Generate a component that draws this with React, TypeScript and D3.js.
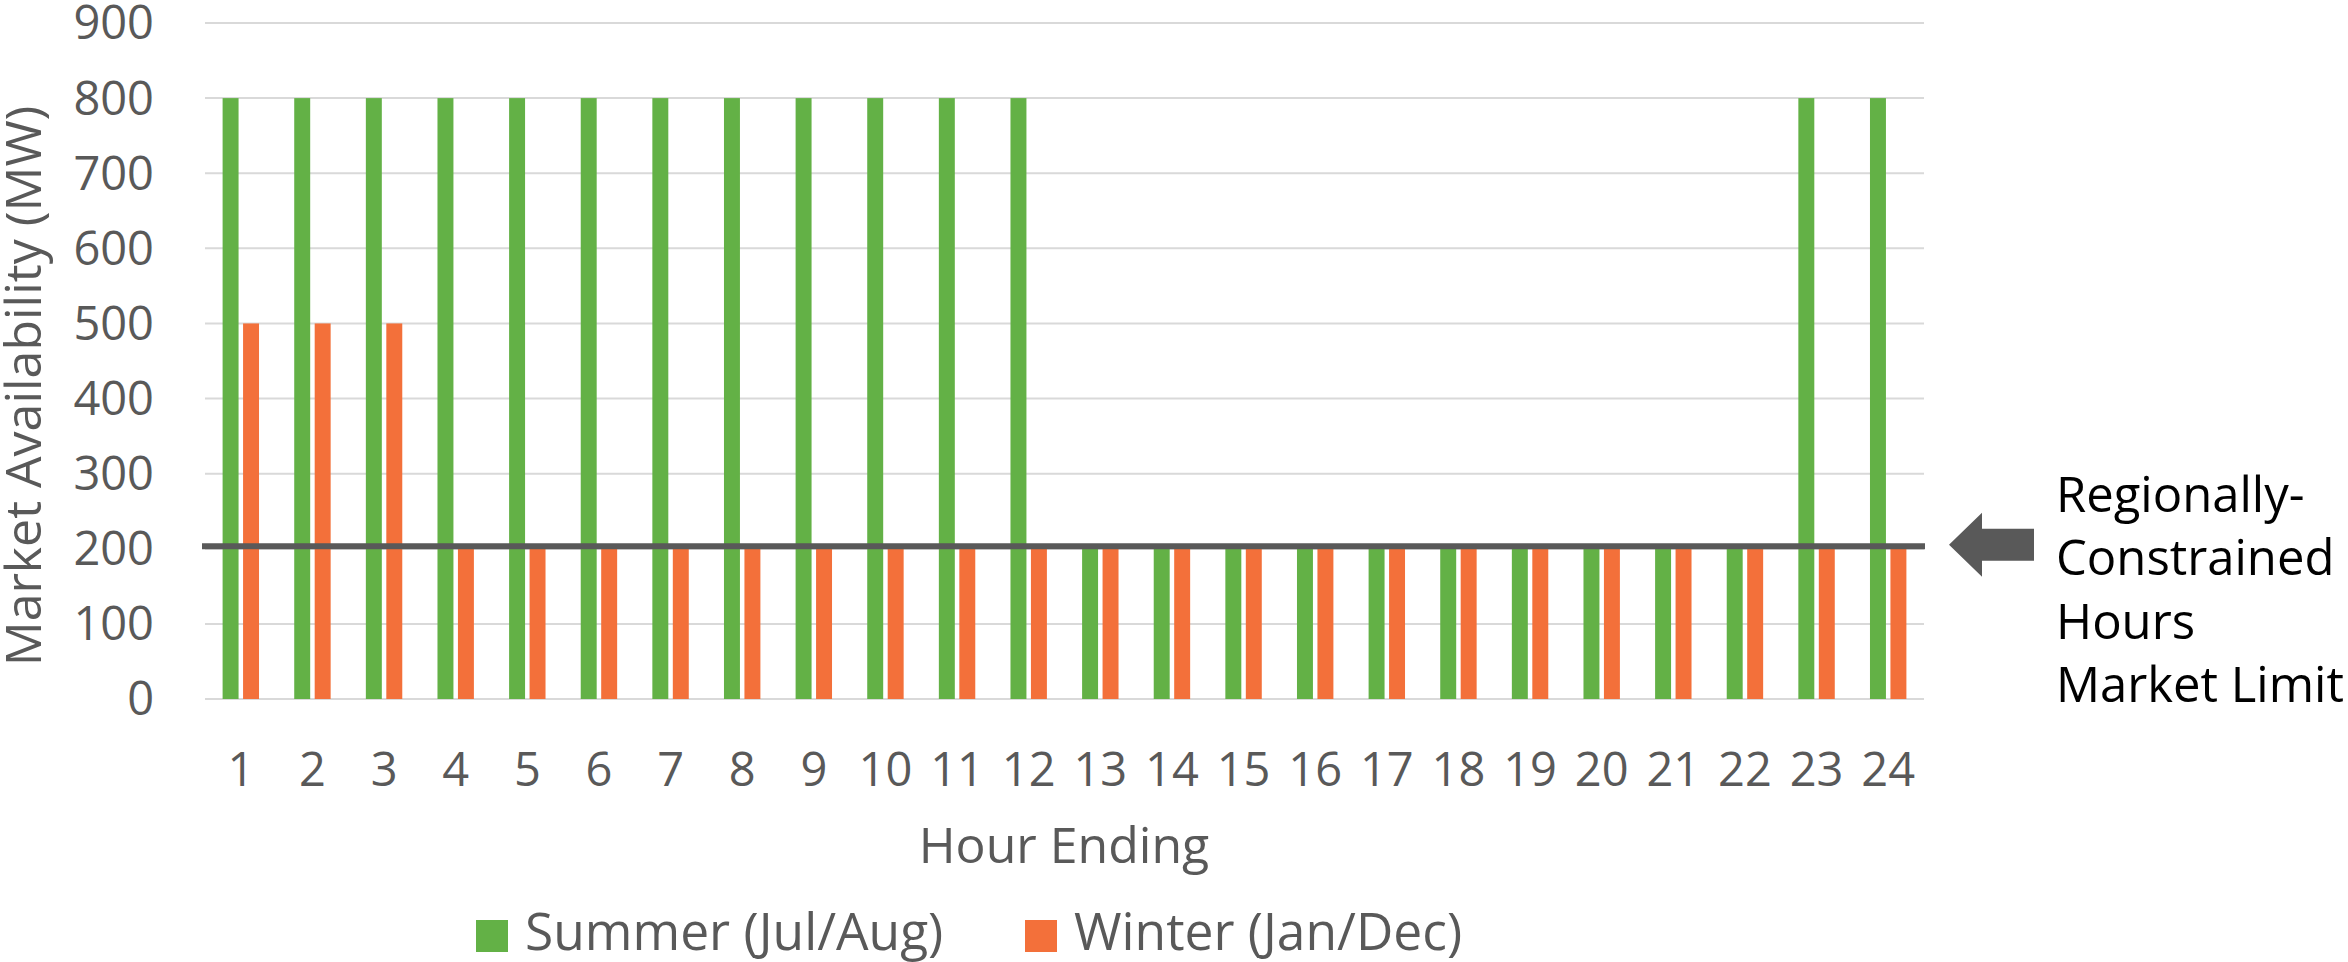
import React, { useEffect, useRef } from 'react';
import * as d3 from 'd3';

// --- Data ---
const hours = ['1', '2', '3', '4', '5', '6', '7', '8', '9', '10', '11', '12',
  '13', '14', '15', '16', '17', '18', '19', '20', '21', '22', '23', '24'];
const summerValues = [800, 800, 800, 800, 800, 800, 800, 800, 800, 800, 800, 800,
  200, 200, 200, 200, 200, 200, 200, 200, 200, 200, 800, 800];
const winterValues = [500, 500, 500, 200, 200, 200, 200, 200, 200, 200, 200, 200,
  200, 200, 200, 200, 200, 200, 200, 200, 200, 200, 200, 200];
const yTicks = [0, 100, 200, 300, 400, 500, 600, 700, 800, 900];
const marketLimit = 200;
const seriesNames = ['Summer (Jul/Aug)', 'Winter (Jan/Dec)'];
const seriesColors = ['#63B146', '#F3703A'];
const annotationLines = ['Regionally-', 'Constrained', 'Hours', 'Market Limit'];

const WIDTH = 2348;
const HEIGHT = 962;
const FONT = '"Open Sans", "Noto Sans", sans-serif';
const GREY = '#595959';

const App: React.FC = () => {
  const svgRef = useRef<SVGSVGElement>(null);

  useEffect(() => {
    if (!svgRef.current) return;
    const svg = d3.select(svgRef.current);
    svg.selectAll('*').remove();

    const plot = { left: 205, right: 1924, top: 23, bottom: 699 };

    const x0 = d3.scaleBand<string>().domain(hours).range([plot.left, plot.right]);
    const bw = x0.bandwidth();
    const x1 = d3.scaleBand<number>()
      .domain([0, 1])
      .range([17.6, bw - 17.6])
      .paddingInner(0.22);
    const y = d3.scaleLinear().domain([0, 900]).range([plot.bottom, plot.top]);

    // gridlines
    svg.append('g')
      .selectAll('line')
      .data(yTicks)
      .join('line')
      .attr('x1', plot.left)
      .attr('x2', plot.right)
      .attr('y1', d => y(d))
      .attr('y2', d => y(d))
      .attr('stroke', '#D9D9D9')
      .attr('stroke-width', 2);

    // y tick labels
    svg.append('g')
      .selectAll('text')
      .data(yTicks)
      .join('text')
      .attr('x', 154)
      .attr('y', d => y(d))
      .attr('dy', '0.35em')
      .attr('text-anchor', 'end')
      .attr('font-family', FONT)
      .attr('font-size', 47)
      .attr('fill', GREY)
      .text(d => d);

    // bars
    const series = [summerValues, winterValues];
    series.forEach((vals, si) => {
      svg.append('g')
        .selectAll('rect')
        .data(vals)
        .join('rect')
        .attr('x', (_, i) => (x0(hours[i]) as number) + (x1(si) as number))
        .attr('width', x1.bandwidth())
        .attr('y', d => y(d))
        .attr('height', d => y(0) - y(d))
        .attr('fill', seriesColors[si]);
    });

    // x tick labels
    svg.append('g')
      .selectAll('text')
      .data(hours)
      .join('text')
      .attr('x', d => (x0(d) as number) + bw / 2)
      .attr('y', 786)
      .attr('text-anchor', 'middle')
      .attr('font-family', FONT)
      .attr('font-size', 47)
      .attr('fill', GREY)
      .text(d => d);

    // market limit line (sits on top of the 200 level)
    svg.append('line')
      .attr('x1', plot.left - 3)
      .attr('x2', plot.right + 1)
      .attr('y1', y(marketLimit) - 2.5)
      .attr('y2', y(marketLimit) - 2.5)
      .attr('stroke', GREY)
      .attr('stroke-width', 6);

    // axis titles
    svg.append('text')
      .attr('x', 1064)
      .attr('y', 863)
      .attr('text-anchor', 'middle')
      .attr('font-family', FONT)
      .attr('font-size', 50)
      .attr('fill', GREY)
      .text('Hour Ending');

    svg.append('text')
      .attr('transform', 'translate(41,386) rotate(-90)')
      .attr('text-anchor', 'middle')
      .attr('font-family', FONT)
      .attr('font-size', 50)
      .attr('fill', GREY)
      .text('Market Availability (MW)');

    // arrow
    const ay = y(marketLimit) - 4;
    const arrow = d3.path();
    arrow.moveTo(1949, ay);
    arrow.lineTo(1982, ay - 32);
    arrow.lineTo(1982, ay - 16);
    arrow.lineTo(2034, ay - 16);
    arrow.lineTo(2034, ay + 16);
    arrow.lineTo(1982, ay + 16);
    arrow.lineTo(1982, ay + 32);
    arrow.closePath();
    svg.append('path').attr('d', arrow.toString()).attr('fill', GREY);

    // annotation text
    svg.append('g')
      .selectAll('text')
      .data(annotationLines)
      .join('text')
      .attr('x', 2056)
      .attr('y', (_, i) => 512 + i * 63.3)
      .attr('font-family', FONT)
      .attr('font-size', 49)
      .attr('fill', '#000')
      .text(d => d);

    // legend
    const legendX = [476, 1025];
    seriesNames.forEach((name, i) => {
      svg.append('rect')
        .attr('x', legendX[i])
        .attr('y', 920)
        .attr('width', 32)
        .attr('height', 32)
        .attr('fill', seriesColors[i]);
      svg.append('text')
        .attr('x', legendX[i] + 49)
        .attr('y', 950)
        .attr('font-family', FONT)
        .attr('font-size', 51.5)
        .attr('fill', GREY)
        .text(name);
    });
  }, []);

  return (
    <svg
      ref={svgRef}
      width={WIDTH}
      height={HEIGHT}
      style={{ position: 'absolute', left: 0, top: 0, background: '#fff' }}
    />
  );
};

export default App;
